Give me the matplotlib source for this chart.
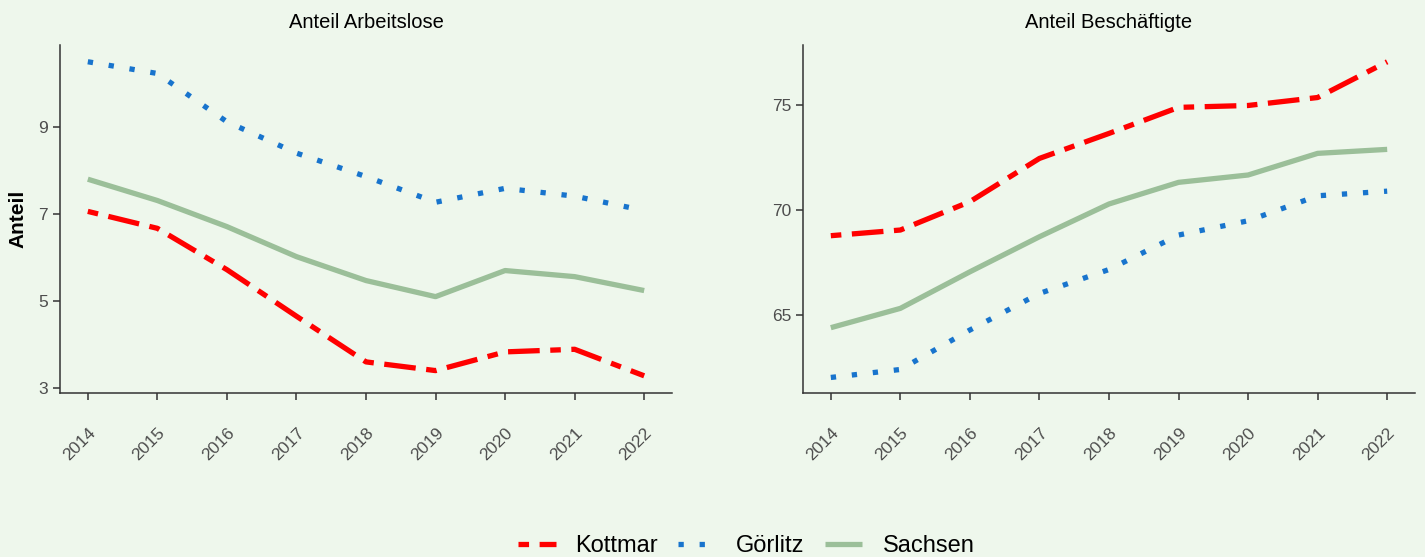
import matplotlib
matplotlib.use("Agg")
from matplotlib import pyplot as plt
from matplotlib.ticker import FixedLocator

years = [2014, 2015, 2016, 2017, 2018, 2019, 2020, 2021, 2022]

# Anteil Arbeitslose
alo_kottmar = [7.06, 6.67, 5.72, 4.65, 3.60, 3.40, 3.83, 3.89, 3.28]
alo_goerlitz = [10.50, 10.23, 9.12, 8.40, 7.86, 7.27, 7.59, 7.41, 7.08]
alo_sachsen = [7.80, 7.31, 6.71, 6.02, 5.47, 5.10, 5.70, 5.56, 5.24]

# Anteil Beschäftigte
bes_kottmar = [68.78, 69.05, 70.40, 72.46, 73.65, 74.89, 74.98, 75.36, 77.06]
bes_goerlitz = [62.03, 62.41, 64.29, 66.03, 67.17, 68.81, 69.49, 70.68, 70.90]
bes_sachsen = [64.40, 65.32, 67.06, 68.73, 70.29, 71.32, 71.67, 72.70, 72.89]

bg = "#EEF7EC"
plt.rcParams['font.family'] = ['Liberation Sans', 'DejaVu Sans']
tick_font = ['Liberation Sans Narrow', 'Liberation Sans', 'DejaVu Sans']

fig = plt.figure(figsize=(14.25, 5.57), dpi=100, facecolor=bg)
W, H = 1425, 557


def make_axes(x0, x1, y0, y1):
    return fig.add_axes([x0 / W, 1 - y1 / H, (x1 - x0) / W, (y1 - y0) / H])


ax1 = make_axes(60, 672, 45, 393)
ax2 = make_axes(803, 1415, 45, 393)

styles = {
    "Kottmar": dict(color="#FF0000", dashes=(2, 2, 6, 2)),
    "Görlitz": dict(color="#1874CD", dashes=(1, 3)),
    "Sachsen": dict(color="#9BBF99", linestyle="-"),
}

panels = [
    (ax1, "Anteil Arbeitslose", [alo_kottmar, alo_goerlitz, alo_sachsen], (2.885, 10.885), [3, 5, 7, 9]),
    (ax2, "Anteil Beschäftigte", [bes_kottmar, bes_goerlitz, bes_sachsen], (61.29, 77.86), [65, 70, 75]),
]

for ax, title, series, ylim, yticks in panels:
    ax.set_facecolor(bg)
    for name, vals in zip(["Kottmar", "Görlitz", "Sachsen"], series):
        ax.plot(years, vals, linewidth=3.8, label=name, solid_capstyle="butt",
                dash_capstyle="butt", **styles[name])
    ax.set_xlim(2013.6, 2022.4)
    ax.set_ylim(*ylim)
    ax.xaxis.set_major_locator(FixedLocator(years))
    ax.yaxis.set_major_locator(FixedLocator(yticks))
    ax.set_xticklabels([str(y) for y in years], rotation=45, ha="right", va="top",
                       rotation_mode="anchor", family=tick_font)
    ax.set_yticklabels([str(t) for t in yticks], family=tick_font)
    ax.tick_params(axis="both", colors="#333333", labelcolor="#4D4D4D", labelsize=12.5,
                   length=5, width=1.1)
    ax.tick_params(axis="x", pad=18)
    ax.tick_params(axis="y", pad=3.5)
    for s in ["top", "right"]:
        ax.spines[s].set_visible(False)
    for s in ["left", "bottom"]:
        ax.spines[s].set_color("#333333")
        ax.spines[s].set_linewidth(1.1)
    ax.set_title(title, fontsize=14.5, pad=12)

fig.text(17.5 / W, 1 - 219 / H, "Anteil", rotation=90, ha="center", va="center",
         fontsize=15, fontweight="bold")

handles, labels = ax1.get_legend_handles_labels()
fig.legend(handles, labels, loc="center", bbox_to_anchor=(746 / W, 1 - 546 / H), ncol=3,
           frameon=False, fontsize=17, handlelength=1.6, columnspacing=0.85,
           handletextpad=0.85)

fig.savefig("out.png", dpi=100, facecolor=bg)
